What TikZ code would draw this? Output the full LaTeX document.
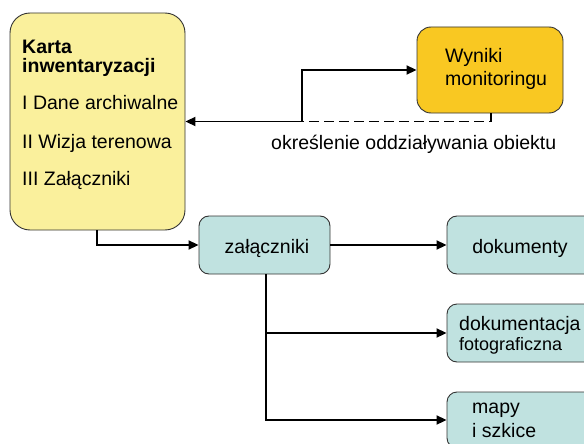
\documentclass[tikz,border=0pt]{standalone}
\usepackage{fontspec}
\setmainfont{Liberation Sans}
\usetikzlibrary{arrows.meta,calc}
\definecolor{cardyellow}{HTML}{FAF09C}
\definecolor{monorange}{HTML}{F9C822}
\definecolor{attteal}{HTML}{C0E2E0}
\begin{document}
\begin{tikzpicture}[x=1pt,y=-1pt,
  box/.style={draw=black!80,line width=0.9pt,rounded corners=#1,inner sep=0pt},
  box/.default=12pt,
  arr/.style={line width=1.9pt,-{Triangle[length=10pt,width=9pt]}},
  txt/.style={font=\fontsize{19.5}{22}\selectfont,inner sep=0pt,anchor=base west},
  ctxt/.style={font=\fontsize{19.5}{22}\selectfont,inner sep=0pt,anchor=base}
]
\useasboundingbox (0,0) rectangle (584,444);
\clip (0,0) rectangle (584,444);
% boxes
\node[box=20pt,fill=cardyellow,minimum width=175pt,minimum height=217pt] (karta) at (97.5,121.5) {};
\node[box=14pt,fill=monorange,minimum width=146pt,minimum height=86pt] (wyn) at (490,70) {};
\node[box=10pt,fill=attteal,minimum width=131pt,minimum height=58pt] (zal) at (264.5,245) {};
\node[box=10pt,fill=attteal,minimum width=147pt,minimum height=58pt] (dok) at (520.5,245) {};
\node[box=10pt,fill=attteal,minimum width=147pt,minimum height=58pt] (foto) at (520.5,333) {};
\node[box=10pt,fill=attteal,minimum width=147pt,minimum height=56pt] (mapy) at (520.5,420) {};
% texts
\node[txt,font=\fontsize{19.5}{22}\selectfont\bfseries] (t1) at (22,54) {Karta};
\node[txt,font=\fontsize{19.5}{22}\selectfont\bfseries] (t2) at (22,73) {inwentaryzacji};
\node[txt] (t3) at (22,110) {I Dane archiwalne};
\node[txt] (t4) at (22,148) {II Wizja terenowa};
\node[txt] (t5) at (22,185) {III Załączniki};
\node[txt] (w1) at (445,63) {Wyniki};
\node[txt] (w2) at (445,85) {monitoringu};
\node[txt] (lab) at (271,149) {określenie oddziaływania obiektu};
\node[ctxt] (z1) at (267,253) {załączniki};
\node[ctxt] (d1) at (520,253) {dokumenty};
\node[txt] (f1) at (459,330) {dokumentacja};
\node[txt,font=\fontsize{18}{20}\selectfont] (f2) at (459,350) {fotograficzna};
\node[txt] (m1) at (472,413) {mapy};
\node[txt] (m2) at (472,437) {i szkice};
% connectors
\coordinate (j1) at (97,245);
\draw[arr] (karta.south -| j1) -- (j1) -- (zal.west);
\coordinate (j2) at (302,121.5);
\draw[arr] (j2) -- (karta.east);
\draw[arr] (j2) |- (wyn.west);
\coordinate (j3) at (491,121.5);
\draw[line width=1.9pt,dash pattern=on 10pt off 5pt] (wyn.south -| j3) -- (j3) -- (j2);
\draw[arr] (zal.east) -- (dok.west);
\coordinate (j4) at (266,420);
\draw[arr] (zal.south -| j4) |- (mapy.west);
\draw[arr] (j4 |- foto.west) -- (foto.west);
\end{tikzpicture}
\end{document}
